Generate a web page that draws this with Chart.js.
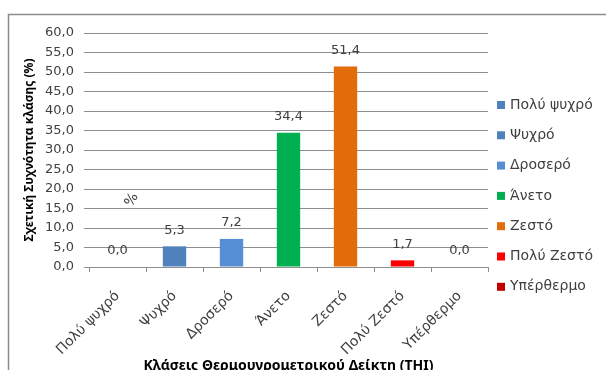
<!DOCTYPE html>
<html lang="el">
<head>
<meta charset="utf-8">
<title>Κλάσεις THI</title>
<script src="https://cdn.jsdelivr.net/npm/chart.js@4/dist/chart.umd.min.js"></script>
<style>
  html, body { margin: 0; padding: 0; background: #fff; }
  #wrap { position: relative; width: 606px; height: 370px; }
</style>
</head>
<body>
<div id="wrap"><canvas id="thiChart" width="606" height="370"></canvas></div>
<script>
// THI class frequencies
const categories = ['Πολύ ψυχρό', 'Ψυχρό', 'Δροσερό', 'Άνετο', 'Ζεστό', 'Πολύ Ζεστό', 'Υπέρθερμο'];
const frequencies = [0.0, 5.3, 7.2, 34.4, 51.4, 1.7, 0.0];
const barColors = ['#4F81BD', '#4F81BD', '#558ED5', '#00B050', '#E36C0A', '#FF0000', '#C00000'];
const yMin = 0;
const yMax = 60;
const yStep = 5;

const FONT = '"DejaVu Sans", sans-serif';
const TITLE_FONT = '"Noto Sans", sans-serif';
const TEXT = '#404040';
const GRID = '#8E8E8E';

const fmt = v => v.toFixed(1).replace('.', ',');

// frame, value labels, legend, x title and the loose "%" mark
const extras = {
    id: 'extras',
    beforeDraw(chart) {
        const ctx = chart.ctx;
        ctx.save();
        ctx.strokeStyle = '#8C8C8C';
        ctx.lineWidth = 1.5;
        ctx.strokeRect(8.5, 14.5, 640, 400);
        ctx.restore();
    },
    afterDraw(chart) {
        const ctx = chart.ctx;
        const area = chart.chartArea;
        const meta = chart.getDatasetMeta(0);
        ctx.save();

        // value labels above bars
        ctx.font = '13px ' + FONT;
        ctx.fillStyle = TEXT;
        ctx.textAlign = 'center';
        ctx.textBaseline = 'middle';
        meta.data.forEach((bar, i) => {
            ctx.fillText(fmt(frequencies[i]), bar.x, bar.y - 16);
        });

        // legend
        ctx.font = '14px ' + FONT;
        ctx.textAlign = 'left';
        categories.forEach((name, i) => {
            const cy = 105 + i * 30.3;
            ctx.fillStyle = barColors[i];
            ctx.fillRect(497, cy - 4, 8, 8);
            ctx.fillStyle = TEXT;
            ctx.fillText(name, 510, cy);
        });

        // x axis title
        ctx.font = 'bold 14px ' + TITLE_FONT;
        ctx.fillStyle = '#000';
        ctx.textAlign = 'center';
        ctx.fillText('Κλάσεις Θερμουγρομετρικού Δείκτη (THI)', (area.left + area.right) / 2, 366);

        // stray percent sign
        ctx.font = '14px ' + FONT;
        ctx.fillStyle = TEXT;
        ctx.translate(132, 200);
        ctx.rotate(-Math.PI / 3);
        ctx.fillText('%', 0, 0);

        ctx.restore();
    }
};

new Chart(document.getElementById('thiChart'), {
    type: 'bar',
    data: {
        labels: categories,
        datasets: [{
            label: 'Σχετική Συχνότητα κλάσης (%)',
            data: frequencies,
            backgroundColor: barColors,
            borderWidth: 0,
            categoryPercentage: 1.0,
            barPercentage: 0.41
        }]
    },
    options: {
        responsive: false,
        animation: false,
        layout: { padding: { left: 0, right: 118, top: 33, bottom: 0 } },
        plugins: {
            legend: { display: false },
            tooltip: { enabled: false }
        },
        scales: {
            x: {
                grid: {
                    display: true,
                    drawOnChartArea: false,
                    tickLength: 5,
                    color: GRID,
                    offset: true
                },
                border: { display: true, color: GRID },
                ticks: {
                    color: TEXT,
                    font: { family: FONT, size: 14 },
                    minRotation: 45,
                    maxRotation: 45,
                    padding: 16,
                    autoSkip: false
                },
                afterFit(scale) { scale.height = 103; }
            },
            y: {
                min: yMin,
                max: yMax,
                grid: { color: GRID, tickLength: 5 },
                border: { display: false },
                ticks: {
                    stepSize: yStep,
                    color: TEXT,
                    padding: 10,
                    font: { family: FONT, size: 13 },
                    callback: v => fmt(v)
                },
                title: {
                    display: true,
                    text: 'Σχετική Συχνότητα κλάσης (%)',
                    color: '#000',
                    font: { family: TITLE_FONT, size: 12, weight: 'bold' },
                    padding: { top: 22, bottom: 0 }
                },
                afterFit(scale) { scale.width = 89; }
            }
        }
    },
    plugins: [extras]
});
</script>
</body>
</html>
